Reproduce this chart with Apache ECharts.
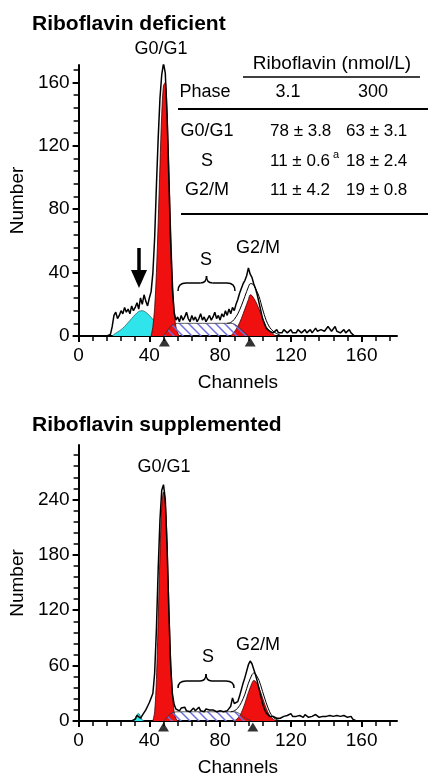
<!DOCTYPE html>
<html><head><meta charset="utf-8">
<script src="https://cdn.jsdelivr.net/npm/echarts@6/dist/echarts.min.js"></script>
<style>html,body{margin:0;padding:0;background:#fff}#c{width:428px;height:778px}</style>
</head><body><div id="c"></div>
<script>
// ---------- DATA ----------
// axis ticks
const xMajor = [0, 40, 80, 120, 160];
const xMinor = [0,8,16,24,32,40,48,56,64,72,80,88,96,104,112,120,128,136,144,152,160,168,176];
const yMajorTop = [0, 40, 80, 120, 160];
const yMinorTop = [0,8,16,24,32,40,48,56,64,72,80,88,96,104,112,120,128,136,144,152,160,168];
const yMajorBot = [0, 60, 120, 180, 240];
const yMinorBot = [0,12,24,36,48,60,72,84,96,108,120,132,144,156,168,180,192,204,216,228,240,252,264,276,288];

// Riboflavin deficient: raw histogram, channels 16..155
const defRawStart = 16;
const defRaw = [0,0,1,6,13,15,11,13,16,14,18,15,17,14,19,16,18,21,17,24,20,26,22,19,24,28,40,62,95,125,150,165,172,166,140,100,60,30,15,10,
  12,9,13,10,12,15,11,9,13,10,12,9,11,14,10,12,9,11,13,10,12,15,11,13,10,14,12,16,13,17,14,18,16,20,23,27,30,33,35,38,43,39,37,33,30,26,21,16,11,8,
  5,4,3,4,2,3,4,2,3,2,4,3,2,3,4,2,3,2,4,3,2,3,4,2,3,4,2,3,5,3,2,4,5,3,4,6,5,3,4,6,3,4,2,3,4,2,3,4,2,1,0];
// fitted components (deficient)
const defApoCh = [19,20,22,24,26,28,30,32,34,36,38,40,42,44,46,48,50,52,54];
const defApoV  = [0,1,2.5,4,6,8.5,11,13.5,15.5,16,15,13,10.5,8,5.5,3.5,2,1,0];
const defG1Ch = [41,42,43,44,45,46,47,48,49,50,51,52,53,54,55,56,57];
const defG1V  = [0,6,18,40,72,108,140,158,160,142,108,70,38,16,6,2,0];
const defSCh = [48,50,52,54,56,60,70,80,86,88,90,92,94,96];
const defSV  = [0,3,6,7.5,8,8,8,8,8,7.5,6,4,2,0];
const defG2Ch = [86,88,90,92,94,96,97,98,100,102,104,106,108,110,112];
const defG2V  = [0,2.5,6,11,17,23,26,25.5,22,17,11,6,3,1,0];
const defSumCh = [84,86,88,90,92,94,96,97,98,100,102,104,106,108,110,112,114];
const defSumV  = [8,8.5,10.5,14,19,25,31,33,33,30,25,17,10,5.5,3,1.5,0.5];
const defMarks = [48.5, 97];

// Riboflavin supplemented: raw histogram, channels 30..158
const supRawStart = 30;
const supRaw = [0,0,2,6,4,3,6,9,12,16,20,25,30,52,100,165,218,250,256,240,190,120,62,30,18,13,15,11,14,12,
  15,11,13,10,12,14,11,13,15,11,12,10,13,11,12,10,12,11,10,12,11,13,10,12,11,13,16,25,19,17,21,27,34,41,47,54,61,65,62,56,
  50,43,35,27,19,13,9,7,5,4,5,4,3,4,3,4,5,4,6,5,8,5,4,5,4,6,5,4,7,5,4,6,5,4,7,5,4,6,5,7,5,4,6,7,5,4,6,7,5,4,6,7,4,3,5,2,0,0,0];
const supApoCh = [31,32,33,34,35,36,37];
const supApoV  = [0,3,7,8,5,1,0];
const supG1Ch = [42,43,44,45,46,47,48,49,50,51,52,53,54,55,56];
const supG1V  = [0,10,45,110,180,232,248,238,195,130,70,30,10,3,0];
const supSCh = [48,50,52,54,56,60,70,80,88,90,92,94,96,98];
const supSV  = [0,4,8,9.5,10,10,10,10,10,9,6.5,3.5,1.5,0];
const supG2Ch = [88,90,92,94,96,98,99,100,102,104,106,108,110,112];
const supG2V  = [0,3,9,19,31,41,44,43,36,25,14,6,2,0];
const supSumCh = [86,88,90,92,94,96,98,99,100,102,104,106,108,110,112,114];
const supSumV  = [10,11,14,20,29,41,50,52,51,44,32,20,10,4,1.5,0.5];
const supMarks = [48, 98.5];

// table
const tableHeader = 'Riboflavin (nmol/L)';
const tableCols = ['Phase', '3.1', '300'];
const tablePhases = ['G0/G1', 'S', 'G2/M'];
const tableLow  = ['78 ± 3.8', '11 ± 0.6', '11 ± 4.2'];
const tableHigh = ['63 ± 3.1', '18 ± 2.4', '19 ± 0.8'];

// ---------- CHART ----------
const FONT = '"Liberation Sans", Arial, Helvetica, sans-serif';
const RED = '#f01010', CYAN = '#2fe4ea';
const TF = 18; // table font size
const VF = 17; // table value font size

function pairs(xs, ys){ return xs.map((x,i)=>[x, ys[i]]); }
function rawPairs(start, vals){ return vals.map((v,i)=>[start+i, v]); }

function hatchCanvas(){
  const c = document.createElement('canvas'); c.width = 9; c.height = 9;
  const g = c.getContext('2d');
  g.strokeStyle = '#6f6fe0'; g.lineWidth = 1.5;
  g.beginPath();
  g.moveTo(-4.5,4.5); g.lineTo(4.5,13.5);
  g.moveTo(0,0); g.lineTo(9,9);
  g.moveTo(4.5,-4.5); g.lineTo(13.5,4.5);
  g.stroke();
  return c;
}
const hatch = {image: hatchCanvas(), repeat: 'repeat'};

function xAxes(gi){
  return [
    {gridIndex:gi, type:'value', position:'bottom', min:0, max:180, interval:40,
     axisLine:{show:true, onZero:false, lineStyle:{color:'#000', width:2}},
     axisTick:{show:true, length:6, lineStyle:{color:'#000', width:2}, customValues:xMajor},
     axisLabel:{customValues:xMajor, fontSize:19, color:'#000', margin:10, fontFamily:FONT},
     splitLine:{show:false},
     name:'Channels', nameLocation:'middle', nameGap:37,
     nameTextStyle:{fontSize:19, color:'#000', fontFamily:FONT}},
    {gridIndex:gi, type:'value', position:'bottom', min:0, max:180, interval:8,
     axisLine:{show:false}, axisLabel:{show:false}, splitLine:{show:false},
     axisTick:{show:true, length:5, lineStyle:{color:'#000', width:1.5}, customValues:xMinor}}
  ];
}
function yAxes(gi, max, major, minor, majInt, minInt){
  return [
    {gridIndex:gi, type:'value', position:'left', min:0, max:max, interval:majInt,
     axisLine:{show:true, onZero:false, lineStyle:{color:'#000', width:2}},
     axisTick:{show:true, length:6, lineStyle:{color:'#000', width:2}, customValues:major},
     axisLabel:{customValues:major, fontSize:19, color:'#000', margin:9, fontFamily:FONT},
     splitLine:{show:false},
     name:'Number', nameLocation:'middle', nameGap:48, nameRotate:90,
     nameTextStyle:{fontSize:19, color:'#000', fontFamily:FONT}},
    {gridIndex:gi, type:'value', position:'left', min:0, max:max, interval:minInt,
     axisLine:{show:false}, axisLabel:{show:false}, splitLine:{show:false},
     axisTick:{show:true, length:5, lineStyle:{color:'#000', width:1.5}, customValues:minor}}
  ];
}

function seriesFor(gi, d){
  const xi = gi*2, yi = gi*2;
  const base = {type:'line', xAxisIndex:xi, yAxisIndex:yi, showSymbol:false, symbol:'none', smooth:false, animation:false};
  return [
    Object.assign({}, base, {name:'apo', data:pairs(d.apoCh,d.apoV), smooth:0.3, z:2,
      lineStyle:{color:'#2a6a6a', width:0.8}, areaStyle:{color:CYAN, opacity:1}}),
    Object.assign({}, base, {name:'g1', data:pairs(d.g1Ch,d.g1V), smooth:0.3, z:3,
      lineStyle:{color:'#400', width:0.8}, areaStyle:{color:RED, opacity:1}}),
    Object.assign({}, base, {name:'g2', data:pairs(d.g2Ch,d.g2V), smooth:0.3, z:3,
      lineStyle:{color:'#400', width:0.8}, areaStyle:{color:RED, opacity:1}}),
    Object.assign({}, base, {name:'s', data:pairs(d.sCh,d.sV), smooth:0.3, z:4,
      lineStyle:{color:'#333', width:0.8}, areaStyle:{color:hatch, opacity:1}}),
    Object.assign({}, base, {name:'sum', data:pairs(d.sumCh,d.sumV), smooth:0.3, z:5,
      lineStyle:{color:'#000', width:1}}),
    Object.assign({}, base, {name:'raw', data:rawPairs(d.rawStart,d.raw), z:6,
      lineStyle:{color:'#000', width:1.5}}),
    {type:'scatter', xAxisIndex:xi, yAxisIndex:yi, data:d.marks.map(c=>[c,0]), symbol:'triangle',
      symbolSize:[11,9], symbolOffset:[0,6], itemStyle:{color:'#000'}, clip:false, z:7, animation:false}
  ];
}

function T(text, x, y, size, align){
  return {type:'text', x:x, y:y, z:100, style:{text:text, fill:'#000',
    font: (size||TF)+'px '+FONT, align:align||'center', verticalAlign:'middle',
    textAlign:align||'center', textVerticalAlign:'middle'}};
}
function L(x1,y1,x2,y2,w){ return {type:'line', z:100, shape:{x1,y1,x2,y2}, style:{stroke:'#000', lineWidth:w||1.5}}; }
function Q(x1,y1,cx,cy,x2,y2){ return {type:'bezierCurve', z:100, shape:{x1,y1,x2,y2,cpx1:cx,cpy1:cy}, style:{stroke:'#000', lineWidth:1.5, fill:null}}; }
function brace(xa, xb, yEnd, yBar, yTip){
  const xm = (xa+xb)/2;
  return [
    Q(xa,yEnd, xa,yBar, xa+8,yBar),
    L(xa+8,yBar, xm-6,yBar),
    Q(xm-6,yBar, xm,yBar, xm,yTip),
    Q(xm,yTip, xm,yBar, xm+6,yBar),
    L(xm+6,yBar, xb-8,yBar),
    Q(xb-8,yBar, xb,yBar, xb,yEnd)
  ];
}

const graphics = [];
// table
graphics.push(T(tableHeader, 332, 64, 19));
graphics.push(L(243,77,420,77,1.5));
graphics.push(T(tableCols[0], 205, 92));
graphics.push(T(tableCols[1], 288, 92));
graphics.push(T(tableCols[2], 373, 92));
graphics.push(L(178,109,428,109,2));
const rowY = [131, 161, 190];
tablePhases.forEach((p,i)=>{
  graphics.push(T(p, 207, rowY[i]));
  graphics.push(T(tableLow[i], 270, rowY[i], VF, 'left'));
  graphics.push(T(tableHigh[i], 346, rowY[i], VF, 'left'));
});
graphics.push(T('a', 336, rowY[1]-6, 11));
graphics.push(L(181,214,428,214,2));
// top chart labels
graphics.push(T('G0/G1', 161, 49));
graphics.push(T('G2/M', 258, 248));
graphics.push(T('S', 206, 260));
brace(178, 235, 291, 283, 276).forEach(e=>graphics.push(e));
// arrow
graphics.push(L(139,248,139,272,3.5));
graphics.push({type:'polygon', z:100, shape:{points:[[131,270],[147,270],[139,288]]}, style:{fill:'#000'}});
// bottom chart labels
graphics.push(T('G0/G1', 164, 467));
graphics.push(T('G2/M', 258, 645));
graphics.push(T('S', 208, 657));
brace(178, 234, 688, 681, 674).forEach(e=>graphics.push(e));

const chart = echarts.init(document.getElementById('c'), null, {renderer:'canvas'});
chart.setOption({
  backgroundColor:'#fff',
  animation:false,
  title:[
    {text:'Riboflavin deficient', left:27, top:9, textStyle:{fontSize:21, fontWeight:'bold', color:'#000', fontFamily:FONT}},
    {text:'Riboflavin supplemented', left:27, top:410, textStyle:{fontSize:21, fontWeight:'bold', color:'#000', fontFamily:FONT}}
  ],
  grid:[
    {left:77, top:65, width:320, height:271, containLabel:false},
    {left:77, top:445, width:320, height:279, containLabel:false}
  ],
  xAxis: xAxes(0).concat(xAxes(1)),
  yAxis: yAxes(0, 171, yMajorTop, yMinorTop, 40, 8).concat(yAxes(1, 299, yMajorBot, yMinorBot, 60, 12)),
  series: seriesFor(0, {rawStart:defRawStart, raw:defRaw, apoCh:defApoCh, apoV:defApoV, g1Ch:defG1Ch, g1V:defG1V,
      sCh:defSCh, sV:defSV, g2Ch:defG2Ch, g2V:defG2V, sumCh:defSumCh, sumV:defSumV, marks:defMarks})
    .concat(seriesFor(1, {rawStart:supRawStart, raw:supRaw, apoCh:supApoCh, apoV:supApoV, g1Ch:supG1Ch, g1V:supG1V,
      sCh:supSCh, sV:supSV, g2Ch:supG2Ch, g2V:supG2V, sumCh:supSumCh, sumV:supSumV, marks:supMarks})),
  graphic: graphics
});
</script></body></html>
